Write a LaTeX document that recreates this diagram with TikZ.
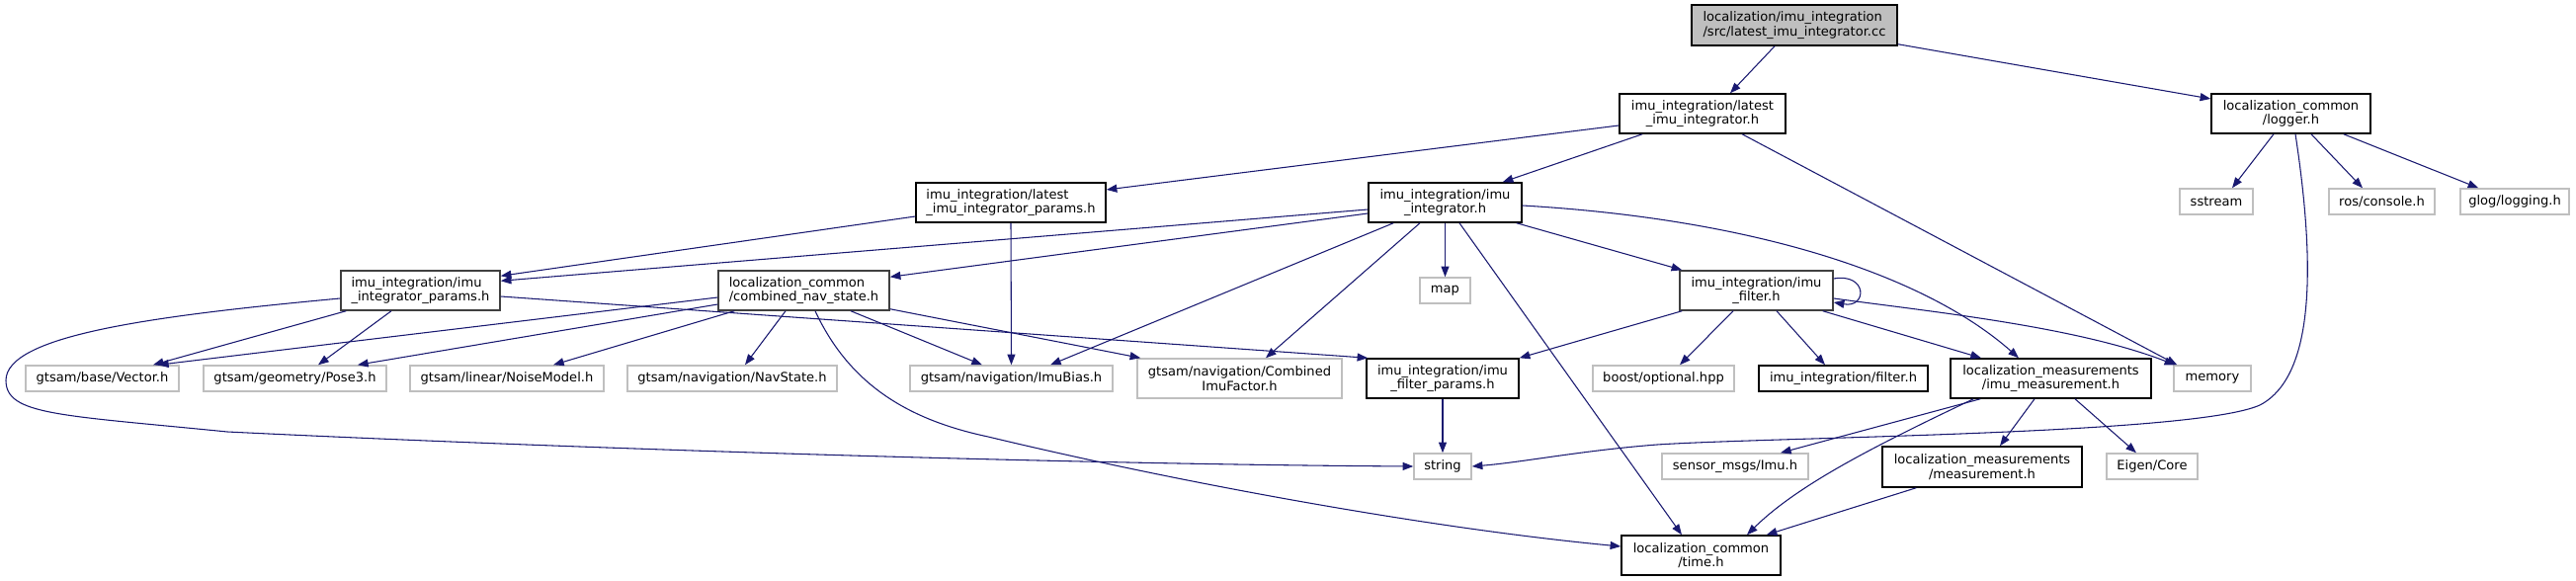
\documentclass[tikz,border=0pt]{standalone}
\usepackage{fontspec}
\usetikzlibrary{arrows.meta,calc}
\newfontfamily\dvs{DejaVu Sans}
\definecolor{navyedge}{HTML}{191970}
\definecolor{greyext}{HTML}{BFBFBF}
\definecolor{greydark}{HTML}{404040}
\tikzset{
  base/.style={rectangle, draw, fill=white, line width=1.1pt, inner sep=1pt,
    font={\dvs\fontsize{9.8}{11}\selectfont}, align=center},
  doc/.style={base, draw=black},
  nodoc/.style={base, draw=greydark},
  ext/.style={base, draw=greyext},
  rootn/.style={base, draw=black, fill=greyext},
  bw/.style={minimum width=#1*0.75pt},
  bh/.style={minimum height=#1*0.75pt},
  dep/.style={draw=navyedge, line width=0.8pt, -{Triangle[length=8pt,width=6pt]}}
}
\begin{document}
\begin{tikzpicture}[x=0.75pt,y=-0.75pt]
\useasboundingbox (0,0) rectangle (2607,588);
% nodes
\node[rootn,bw=208,bh=41,align=left] (root) at (1816,25.5) {localization/imu\_integration\\/src/latest\_imu\_integrator.cc};
\node[doc,bw=168,bh=40] (A) at (1723,115) {imu\_integration/latest\\\_imu\_integrator.h};
\node[doc,bw=161,bh=40] (L) at (2318.5,115) {localization\_common\\/logger.h};
\node[doc,bw=192,bh=40,align=left] (B) at (1023,205) {imu\_integration/latest\\\_imu\_integrator\_params.h};
\node[doc,bw=155,bh=40] (C) at (1462.5,205) {imu\_integration/imu\\\_integrator.h};
\node[ext,bw=74,bh=26] (sstream) at (2243,204) {sstream};
\node[ext,bw=107,bh=26] (ros) at (2410.5,204) {ros/console.h};
\node[ext,bw=110,bh=26] (glog) at (2545,204) {glog/logging.h};
\node[nodoc,bw=161,bh=40,align=left] (D) at (425.5,294) {imu\_integration/imu\\\_integrator\_params.h};
\node[nodoc,bw=173,bh=40,align=left] (E) at (813.5,294) {localization\_common\\/combined\_nav\_state.h};
\node[ext,bw=51,bh=26] (map) at (1462.5,294) {map};
\node[nodoc,bw=155,bh=40] (F) at (1777.5,294) {imu\_integration/imu\\\_filter.h};
\node[ext,bw=155,bh=26] (vec) at (103.5,383) {gtsam/base/Vector.h};
\node[ext,bw=185,bh=26] (pose) at (298.5,383) {gtsam/geometry/Pose3.h};
\node[ext,bw=196,bh=26] (noise) at (513,383) {gtsam/linear/NoiseModel.h};
\node[ext,bw=212,bh=26] (nav) at (741,383) {gtsam/navigation/NavState.h};
\node[ext,bw=205,bh=26] (bias) at (1023.5,383) {gtsam/navigation/ImuBias.h};
\node[ext,bw=207,bh=40] (comb) at (1254.5,383) {gtsam/navigation/Combined\\ImuFactor.h};
\node[doc,bw=154,bh=40] (G) at (1460,383) {imu\_integration/imu\\\_filter\_params.h};
\node[ext,bw=143,bh=26] (boost) at (1683.5,383) {boost/optional.hpp};
\node[doc,bw=171,bh=26] (filt) at (1865.5,383) {imu\_integration/filter.h};
\node[doc,bw=203,bh=40] (H) at (2075.5,383) {localization\_measurements\\/imu\_measurement.h};
\node[ext,bw=78,bh=26] (mem) at (2239,383) {memory};
\node[ext,bw=58,bh=26] (str) at (1460,472) {string};
\node[ext,bw=148,bh=26] (sensor) at (1756,472) {sensor\_msgs/Imu.h};
\node[doc,bw=202,bh=41] (meas) at (2006,472.5) {localization\_measurements\\/measurement.h};
\node[ext,bw=92,bh=26] (eigen) at (2178,472) {Eigen/Core};
\node[doc,bw=161,bh=40] (T) at (1721.5,562) {localization\_common\\/time.h};
% edges
\draw[dep] ($(root.south)+(-20,0)$) -- ($(A.north)+(28,0)$);
\draw[dep] ($(root.south east)+(0,-2)$) -- ($(L.west)+(0,-15)$);
\draw[dep] ($(A.west)+(0,12)$) -- ($(B.east)+(0,-13)$);
\draw[dep] ($(A.south west)+(24,0)$) -- ($(C.north east)+(-20,0)$);
\draw[dep] ($(A.south)+(40,0)$) -- ($(mem.north west)+(4,0)$);
\draw[dep] ($(L.south)+(-17.5,0)$) -- ($(sstream.north)+(16,0)$);
\draw[dep] ($(L.south)+(4.5,0)$) .. controls (2342,260) and (2345,380) .. (2287,410)
  .. controls (2220,440) and (1800,442) .. (1677,450)
  .. controls (1600,456) and (1540,468) .. (str.east);
\draw[dep] ($(L.south)+(20.5,0)$) -- ($(ros.north)+(-19.5,0)$);
\draw[dep] ($(L.south east)+(-28,0)$) -- ($(glog.north west)+(19,0)$);
\draw[dep] ($(B.west)+(0,14)$) -- ($(D.north east)+(0,6)$);
\draw[dep] (B.south) -- (bias.north);
\draw[dep] ($(C.west)+(0,7)$) -- ($(D.north east)+(0,11)$);
\draw[dep] ($(C.west)+(0,11)$) -- ($(E.north east)+(0,7)$);
\draw[dep] (C.south) -- (map.north);
\draw[dep] ($(C.south east)+(-6,0)$) -- ($(F.north west)+(3,0)$);
\draw[dep] ($(C.east)+(0,3)$) .. controls (1780,222) and (1950,280) .. ($(H.north)+(-32.5,0)$);
\draw[dep] ($(C.south west)+(26,0)$) -- ($(bias.north)+(39.5,0)$);
\draw[dep] ($(C.south)+(-25.5,0)$) -- ($(comb.north)+(26.5,0)$);
\draw[dep] ($(C.south)+(14.5,0)$) -- ($(T.north)+(-19.5,0)$);
\draw[dep] ($(D.south west)+(6,0)$) -- ($(vec.north)+(51.5,0)$);
\draw[dep] ($(E.west)+(0,7)$) -- ($(vec.north)+(56.5,0)$);
\draw[dep] ($(D.south)+(-29.5,0)$) -- ($(pose.north)+(23.5,0)$);
\draw[dep] ($(E.west)+(0,14)$) -- ($(pose.north)+(63.5,0)$);
\draw[dep] ($(E.south west)+(17,0)$) -- ($(noise.north)+(47,0)$);
\draw[dep] ($(E.south)+(-18.5,0)$) -- ($(nav.north)+(13,0)$);
\draw[dep] ($(E.south)+(47.5,0)$) -- ($(bias.north)+(-29.5,0)$);
\draw[dep] ($(E.south east)+(0,-2)$) -- ($(comb.north west)+(4,0)$);
\draw[dep] ($(E.south)+(11.5,0)$) .. controls (860,390) and (920,425) .. (1000,442)
  .. controls (1200,490) and (1450,535) .. ($(T.west)+(0,-9)$);
\draw[dep] ($(D.west)+(0,8)$) .. controls (150,320) and (6,340) .. (6,385)
  .. controls (6,420) and (60,420) .. (230,437)
  .. controls (600,455) and (1100,470) .. (str.west);
\draw[dep] ($(D.east)+(0,6)$) -- ($(G.north west)+(2,0)$);
\draw[dep] ($(F.east)+(0,-12)$) .. controls (1890,276) and (1890,312) .. ($(F.east)+(0,12)$);
\draw[dep] ($(F.south west)+(3,0)$) -- (G.north east);
\draw[dep] ($(F.south)+(-23.5,0)$) -- ($(boost.north)+(16.5,0)$);
\draw[dep] ($(F.south)+(20.5,0)$) -- ($(filt.north)+(-18.5,0)$);
\draw[dep] ($(F.south east)+(-11,0)$) -- ($(H.north)+(-70.5,0)$);
\draw[dep] ($(F.east)+(0,8)$) .. controls (1950,315) and (2100,330) .. ($(mem.north west)+(2,0)$);
\draw[dep] (G.south) -- (str.north);
\draw[dep] ($(H.south west)+(31,0)$) -- ($(sensor.north)+(46,0)$);
\draw[dep] ($(H.south)+(-16.5,0)$) -- ($(meas.north)+(18,0)$);
\draw[dep] ($(H.south)+(24.5,0)$) -- ($(eigen.north)+(-16,0)$);
\draw[dep] ($(H.south west)+(24,0)$) .. controls (1900,450) and (1820,490) .. ($(T.north)+(46.5,0)$);
\draw[dep] ($(meas.south west)+(35,0)$) -- ($(T.north east)+(-15,0)$);
\end{tikzpicture}
\end{document}
